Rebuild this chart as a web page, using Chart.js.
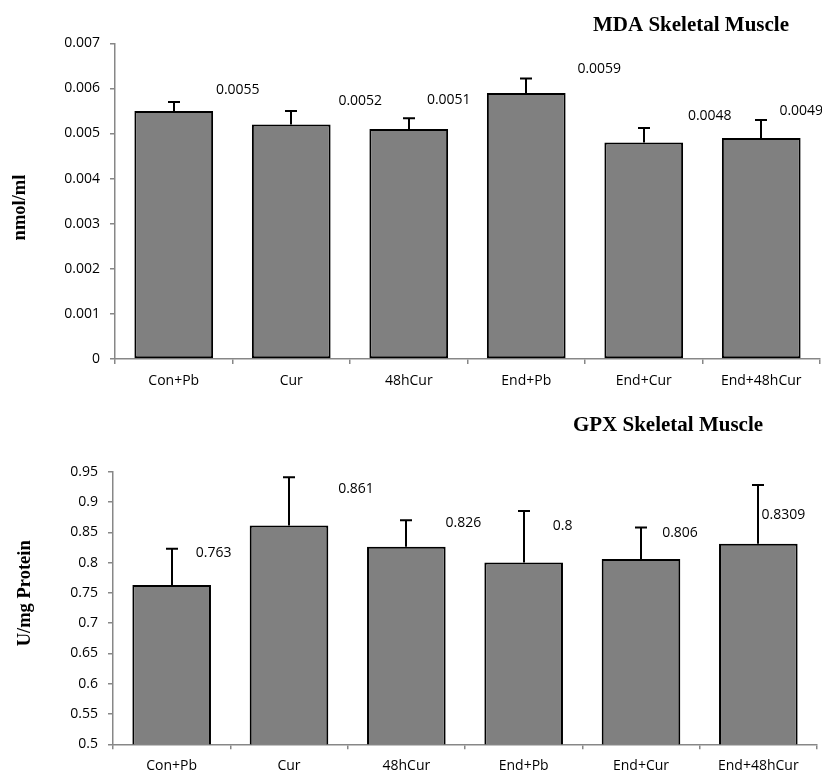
<!DOCTYPE html>
<html><head><meta charset="utf-8">
<script src="https://cdn.jsdelivr.net/npm/chart.js@4.4.0/dist/chart.umd.min.js"></script>
<style>
html,body{margin:0;padding:0;background:#fff;width:822px;height:772px;overflow:hidden;}
canvas{position:absolute;left:0;}
#c1{top:0;}
#c2{top:380px;}
</style></head><body>
<canvas id="c1" width="822" height="400"></canvas>
<canvas id="c2" width="822" height="392"></canvas>
<script>
// ---- data ----
const categories = ['Con+Pb', 'Cur', '48hCur', 'End+Pb', 'End+Cur', 'End+48hCur'];
const mdaValues = [0.0055, 0.0052, 0.0051, 0.0059, 0.0048, 0.0049];
const mdaErrors = [0.0002, 0.0003, 0.00024, 0.00032, 0.00032, 0.0004];
const mdaTicks = [0, 0.001, 0.002, 0.003, 0.004, 0.005, 0.006, 0.007];
const gpxValues = [0.763, 0.861, 0.826, 0.8, 0.806, 0.8309];
const gpxErrors = [0.06, 0.08, 0.044, 0.085, 0.052, 0.097];
const gpxTicks = [0.5, 0.55, 0.6, 0.65, 0.7, 0.75, 0.8, 0.85, 0.9, 0.95];
const mdaTitle = 'MDA Skeletal Muscle';
const mdaAxisTitle = 'nmol/ml';
const gpxTitle = 'GPX Skeletal Muscle';
const gpxAxisTitle = 'U/mg Protein';

// ---- label placement (pixel offsets from bar top centre) ----
const mdaLabelDx = [64, 69, 40, 73, 66, 40];
const mdaLabelDy = [-21, -23, -29, -24, -26.5, -26.5];
const gpxLabelDx = [42, 67, 57, 39, 39, 25];
const gpxLabelDy = [-32, -36.5, -23.5, -36.5, -25.5, -28.5];

const TICK_FONT = {family: '"Open Sans", "Liberation Sans", sans-serif', size: 14};
const AXIS_GRAY = '#878787';

function overlay(cfg) {
  return {
    id: 'overlay',
    afterDatasetsDraw(chart) {
      const ctx = chart.ctx;
      const meta = chart.getDatasetMeta(0);
      const ys = chart.scales.y;
      ctx.save();
      ctx.strokeStyle = '#000';
      ctx.lineWidth = 2;
      meta.data.forEach((el, i) => {
        const yTop = ys.getPixelForValue(cfg.values[i] + cfg.errors[i]);
        const x = Math.round(el.x);
        ctx.beginPath();
        ctx.moveTo(x, el.y);
        ctx.lineTo(x, yTop);
        ctx.moveTo(x - 6, yTop);
        ctx.lineTo(x + 6, yTop);
        ctx.stroke();
      });
      ctx.fillStyle = '#000';
      ctx.font = '14px "Open Sans", "Liberation Sans", sans-serif';
      ctx.textAlign = 'center';
      ctx.textBaseline = 'middle';
      meta.data.forEach((el, i) => {
        ctx.fillText(String(cfg.values[i]), el.x + cfg.dx[i], el.y + cfg.dy[i]);
      });
      ctx.textBaseline = 'alphabetic';
      ctx.font = 'bold 21px "Liberation Serif", "Times New Roman", serif';
      ctx.fillText(cfg.title, cfg.titleX, cfg.titleY);
      ctx.translate(cfg.axX, cfg.axY);
      ctx.rotate(-Math.PI / 2);
      ctx.font = 'bold 18.5px "Liberation Serif", "Times New Roman", serif';
      ctx.fillText(cfg.axisTitle, 0, 0);
      ctx.restore();
    }
  };
}

function makeChart(id, values, errors, ticks, min, max, dec, layout, ov) {
  return new Chart(document.getElementById(id), {
    type: 'bar',
    data: {
      labels: categories,
      datasets: [{
        data: values,
        backgroundColor: '#808080',
        borderColor: '#000',
        borderWidth: 2,
        borderSkipped: false,
        barPercentage: 0.67,
        categoryPercentage: 1
      }]
    },
    options: {
      responsive: false,
      animation: false,
      devicePixelRatio: 1,
      layout: {padding: {left: 0, right: layout.right, top: layout.top, bottom: 0}},
      plugins: {legend: {display: false}, tooltip: {enabled: false}},
      scales: {
        x: {
          offset: true,
          grid: {offset: true, drawOnChartArea: false, drawTicks: true, tickLength: 5, color: AXIS_GRAY, lineWidth: 1.5},
          border: {color: AXIS_GRAY, width: 1.5},
          ticks: {font: TICK_FONT, color: '#000', padding: layout.xPad, maxRotation: 0, autoSkip: false},
          afterFit: s => { s.height = layout.xHeight; }
        },
        y: {
          min: min, max: max,
          grid: {drawOnChartArea: false, drawTicks: true, tickLength: 5, color: AXIS_GRAY, lineWidth: 1.5},
          border: {color: AXIS_GRAY, width: 1.5},
          afterBuildTicks: s => { s.ticks = ticks.map(v => ({value: v})); },
          ticks: {font: TICK_FONT, color: '#000', padding: 10, callback: v => String(+(+v).toFixed(dec))},
          afterFit: s => { s.width = layout.yWidth; }
        }
      }
    },
    plugins: [overlay(ov)]
  });
}

makeChart('c1', mdaValues, mdaErrors, mdaTicks, 0, 0.007, 4,
  {right: 2, top: 43.3, xHeight: 41, yWidth: 115, xPad: 9},
  {values: mdaValues, errors: mdaErrors, dx: mdaLabelDx, dy: mdaLabelDy,
   title: mdaTitle, titleX: 691, titleY: 30.7, axisTitle: mdaAxisTitle, axX: 25, axY: 207.5});

makeChart('c2', gpxValues, gpxErrors, gpxTicks, 0.5, 0.95, 3,
  {right: 5, top: 91.7, xHeight: 27.7, yWidth: 113, xPad: 8},
  {values: gpxValues, errors: gpxErrors, dx: gpxLabelDx, dy: gpxLabelDy,
   title: gpxTitle, titleX: 668, titleY: 50.7, axisTitle: gpxAxisTitle, axX: 30, axY: 213.3});
</script>
</body></html>
